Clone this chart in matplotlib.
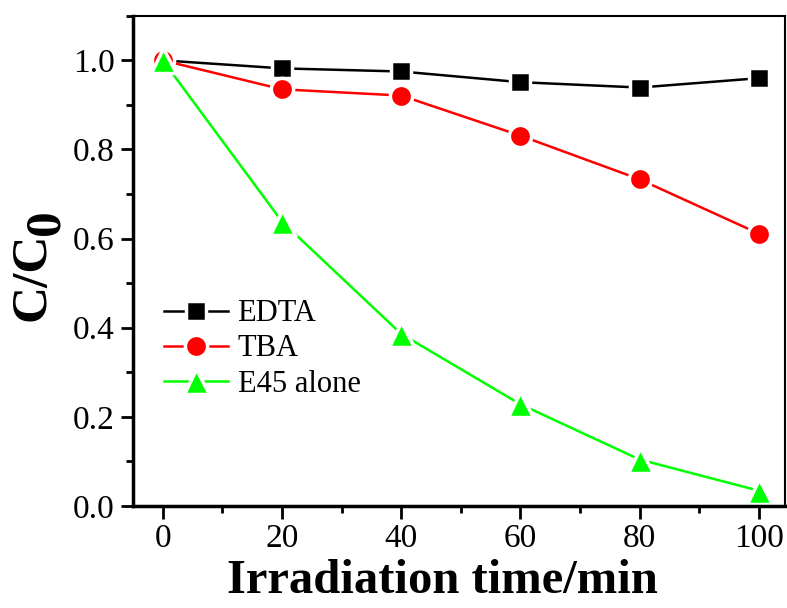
import matplotlib.pyplot as plt
from matplotlib.ticker import MultipleLocator

plt.rcParams["font.family"] = ["Liberation Serif", "DejaVu Serif"]

time_min = [0, 20, 40, 60, 80, 100]
edta = [1.0, 0.982, 0.975, 0.951, 0.939, 0.960]
tba = [1.0, 0.935, 0.921, 0.831, 0.733, 0.611]
e45_alone = [1.0, 0.638, 0.386, 0.228, 0.104, 0.034]

series = [
    ("EDTA", edta, "black", "s", 14.5),
    ("TBA", tba, "#ff0000", "o", 16),
    ("E45 alone", e45_alone, "#00ff00", "^", 18),
]

fig = plt.figure(figsize=(7.87, 6.08), dpi=100)
ax = fig.add_axes([0.169, 0.168, 0.8285, 0.806])

for label, vals, color, marker, ms in series:
    ax.plot(time_min, vals, color=color, lw=1.8, marker=marker, ms=ms,
            mfc=color, mec="white", mew=2.5, label=label)

ax.set_xlim(-5, 104.4)
ax.set_ylim(0, 1.1)
ax.xaxis.set_major_locator(MultipleLocator(20))
ax.xaxis.set_minor_locator(MultipleLocator(10))
ax.yaxis.set_major_locator(MultipleLocator(0.2))
ax.yaxis.set_minor_locator(MultipleLocator(0.1))
ax.yaxis.set_major_formatter(lambda v, p: f"{v:.1f}")

ax.tick_params(which="major", direction="out", length=9, width=2,
               labelsize=24, pad=4)
ax.tick_params(which="minor", direction="out", length=5, width=2)
for side in ["left", "bottom"]:
    ax.spines[side].set_linewidth(2.5)
for side in ["top", "right"]:
    ax.spines[side].set_linewidth(1.5)

ax.set_xlabel("Irradiation time/min", fontsize=35, fontweight="bold")
ax.xaxis.set_label_coords(0.474, -0.108)

# y label: C/C with a full-size, lowered "0"
fig.text(0.0407, 0.5444, "C/C", rotation=90, fontsize=37, fontweight="bold",
         ha="center", va="center")
fig.text(0.0597, 0.635, "0", rotation=90, fontsize=37, fontweight="bold",
         ha="center", va="center")

leg = ax.legend(loc="upper left", bbox_to_anchor=(0.015, 0.465), frameon=False,
                fontsize=22, handlelength=2.1, handletextpad=0.3,
                labelspacing=0.2, borderaxespad=0.3)

fig.savefig("out.png", dpi=100)
